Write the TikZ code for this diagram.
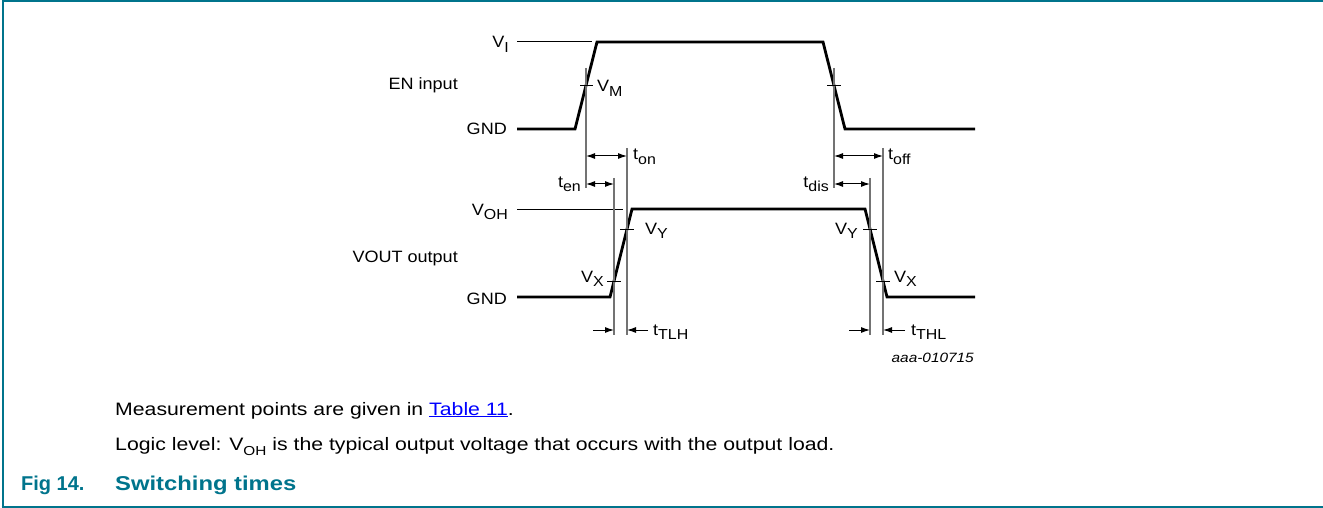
\documentclass[tikz,border=0pt]{standalone}
\usepackage{graphicx}
\usepackage{fontspec}
\setmainfont{Liberation Sans}
\usetikzlibrary{arrows.meta}
\definecolor{nxpteal}{RGB}{0,116,140}
\definecolor{linkblue}{RGB}{0,0,255}
\newcommand{\subt}[1]{\raisebox{-0.3em}{\fontsize{14.5}{14.5}\selectfont #1}}
\newcommand{\subf}[1]{\raisebox{-0.3em}{\fontsize{13}{13}\selectfont #1}}
\newcommand{\hs}[2]{\scalebox{#1}[1]{#2}}
\begin{document}
\begin{tikzpicture}[x=1pt,y=-1pt,
  wave/.style={line width=2.8pt, line join=miter, line cap=butt},
  refl/.style={line width=1pt},
  meas/.style={line width=1.2pt, draw=black!55},
  tickm/.style={line width=1pt},
  lbl/.style={font=\fontsize{16.4}{20}\selectfont, inner sep=0pt},
  dima/.style={line width=1pt, {Latex[length=9pt,width=6pt]}-{Latex[length=9pt,width=6pt]}},
  dimr/.style={line width=1pt, -{Latex[length=9pt,width=6pt]}},
  foot/.style={font=\fontsize{18}{21}\selectfont, inner sep=0pt, anchor=base west},
]
\useasboundingbox (0,0) rectangle (1323,508);
% frame
\draw[nxpteal, line width=2pt] (2.5,507) -- (2.5,1.5) -- (1323,1.5);
\draw[nxpteal, line width=2pt] (1.5,507) -- (1323,507);

% ---- labels left
\node[lbl, anchor=base east] (vi) at (509,48) {\hs{1.1}{V\subt{I}}};
\node[lbl, anchor=base east] (en) at (458,90) {\hs{1.1}{EN input}};
\node[lbl, anchor=base east] (gnd1) at (507,135) {\hs{1.1}{GND}};
\node[lbl, anchor=base east] (voh) at (508,215) {\hs{1.1}{V\subt{OH}}};
\node[lbl, anchor=base east] (vout) at (458,262) {\hs{1.1}{VOUT output}};
\node[lbl, anchor=base east] (gnd2) at (507,304) {\hs{1.1}{GND}};

% ---- EN input waveform
\coordinate (a0) at (517,129);
\coordinate (a1) at (575,129);
\coordinate (a2) at (597,42);
\coordinate (a3) at (823,42);
\coordinate (a4) at (845,129);
\coordinate (a5) at (975,129);
\coordinate (vi0) at (517,42);
\coordinate (vi1) at (592,42);
\draw[refl] (vi0) -- (vi1);
\draw[wave] (a0) -- (a1) -- (a2) -- (a3) -- (a4) -- (a5);

% ---- VOUT waveform
\coordinate (b0) at (517,297);
\coordinate (b1) at (610,297);
\coordinate (b2) at (632,209);
\coordinate (b3) at (865,209);
\coordinate (b4) at (887,297);
\coordinate (b5) at (975,297);
\coordinate (voh0) at (517,209);
\coordinate (voh1) at (623,209);
\draw[refl] (voh0) -- (voh1);
\draw[wave] (b0) -- (b1) -- (b2) -- (b3) -- (b4) -- (b5);

% ---- measurement verticals
\coordinate (L1t) at (586,68);  \coordinate (L1b) at (586,188);
\coordinate (L2t) at (614,178); \coordinate (L2b) at (614,335);
\coordinate (L3t) at (627,148); \coordinate (L3b) at (627,335);
\coordinate (R1t) at (834,68);  \coordinate (R1b) at (834,188);
\coordinate (R2t) at (870,178); \coordinate (R2b) at (870,335);
\coordinate (R3t) at (883,148); \coordinate (R3b) at (883,335);
\draw[meas] (L1t) -- (L1b);
\draw[meas] (L2t) -- (L2b);
\draw[meas] (L3t) -- (L3b);
\draw[meas] (R1t) -- (R1b);
\draw[meas] (R2t) -- (R2b);
\draw[meas] (R3t) -- (R3b);

% ---- ticks
\draw[tickm] (580,85.5) -- (593,85.5);
\draw[tickm] (827,85.5) -- (841,85.5);
\draw[tickm] (620,229) -- (634,229);
\draw[tickm] (607,281) -- (621,281);
\draw[tickm] (863,229) -- (877,229);
\draw[tickm] (876,281) -- (890,281);

% ---- dimension arrows
\coordinate (ton0) at (586,156); \coordinate (ton1) at (627,156);
\coordinate (ten0) at (586,184); \coordinate (ten1) at (614,184);
\coordinate (toff0) at (834,156); \coordinate (toff1) at (883,156);
\coordinate (tdis0) at (834,184); \coordinate (tdis1) at (870,184);
\draw[dima] (ton0) -- (ton1);
\draw[dima] (ten0) -- (ten1);
\draw[dima] (toff0) -- (toff1);
\draw[dima] (tdis0) -- (tdis1);
\coordinate (tlhA) at (593,330); \coordinate (tlhB) at (614,330);
\coordinate (tlhC) at (648,330); \coordinate (tlhD) at (627,330);
\coordinate (thlA) at (849,330); \coordinate (thlB) at (870,330);
\coordinate (thlC) at (905,330); \coordinate (thlD) at (883,330);
\draw[dimr] (tlhA) -- (tlhB);
\draw[dimr] (tlhC) -- (tlhD);
\draw[dimr] (thlA) -- (thlB);
\draw[dimr] (thlC) -- (thlD);

% ---- labels on diagram
\node[lbl, anchor=base west] (vm) at (597,92) {\hs{1.1}{V\subt{M}}};
\node[lbl, anchor=base west] (ton) at (633,160) {\hs{1.1}{t\subt{on}}};
\node[lbl, anchor=base east] (ten) at (581,187) {\hs{1.1}{t\subt{en}}};
\node[lbl, anchor=base west] (vy1) at (645,234) {\hs{1.1}{V\subt{Y}}};
\node[lbl, anchor=base east] (vx1) at (604,282) {\hs{1.1}{V\subt{X}}};
\node[lbl, anchor=base west] (ttlh) at (653,335) {\hs{1.1}{t\subt{TLH}}};
\node[lbl, anchor=base west] (toff) at (888,160) {\hs{1.1}{t\subt{off}}};
\node[lbl, anchor=base east] (tdis) at (829,187) {\hs{1.1}{t\subt{dis}}};
\node[lbl, anchor=base east] (vy2) at (858,234) {\hs{1.1}{V\subt{Y}}};
\node[lbl, anchor=base west] (vx2) at (894,282) {\hs{1.1}{V\subt{X}}};
\node[lbl, anchor=base west] (tthl) at (911,335) {\hs{1.1}{t\subt{THL}}};
\node[inner sep=0pt, anchor=base east, font=\fontsize{13.5}{16}\selectfont\itshape] (code) at (974,362) {\hs{1.14}{aaa-010715}};

% ---- footer
\node[foot] (note1) at (115,415) {\hs{1.18}{Measurement points are given in \textcolor{linkblue}{\underline{Table 11}}.}};
\node[foot] (note2) at (115,450) {\hs{1.18}{Logic level: V\subf{OH} is the typical output voltage that occurs with the output load.}};
\node[inner sep=0pt, anchor=base west, font=\fontsize{20}{24}\selectfont\bfseries, text=nxpteal] (fig) at (21,490) {Fig 14.};
\node[inner sep=0pt, anchor=base west, font=\fontsize{20}{24}\selectfont\bfseries, text=nxpteal] (figt) at (115,490) {\hs{1.19}{Switching times}};
\end{tikzpicture}
\end{document}
